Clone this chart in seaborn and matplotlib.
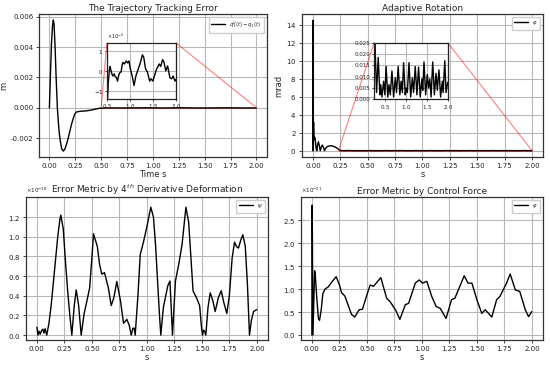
import numpy as np
import pandas as pd
import matplotlib
matplotlib.use("Agg")
import matplotlib.pyplot as plt
import seaborn as sns
from mpl_toolkits.axes_grid1.inset_locator import mark_inset

sns.set_theme(style="whitegrid", rc={
    "axes.edgecolor": "#333333",
    "axes.linewidth": 0.9,
    "grid.color": "#b8b8b8",
    "grid.linewidth": 0.8,
    "xtick.bottom": True,
    "ytick.left": True,
    "xtick.major.size": 2.5,
    "ytick.major.size": 2.5,
    "xtick.major.width": 0.6,
    "ytick.major.width": 0.6,
    "xtick.color": "#222222",
    "ytick.color": "#222222",
    "axes.formatter.use_mathtext": True,
})
plt.rcParams["font.family"] = ["DejaVu Sans"]

# --- dados ---
# erro de rastreamento (m)
t_track = [0.00, 0.01, 0.02, 0.03, 0.038, 0.045, 0.055, 0.065, 0.077, 0.087,
           0.096, 0.108, 0.119, 0.135, 0.15, 0.167, 0.185, 0.20, 0.215, 0.23,
           0.245, 0.26, 0.30, 0.35, 0.40, 0.45, 0.49,
           0.51, 0.53, 0.555, 0.57, 0.59, 0.61, 0.63, 0.66, 0.68, 0.71,
           0.73, 0.76, 0.78, 0.81, 0.83, 0.85, 0.88, 0.92, 0.95, 0.98,
           1.01, 1.05, 1.09, 1.13, 1.18, 1.23, 1.27, 1.30, 1.34, 1.38,
           1.43, 1.46, 1.50, 1.54, 1.58, 1.64, 1.67, 1.71, 1.74, 1.78,
           1.82, 1.87, 1.91, 1.94, 1.98, 2.00]
err_track = [0.0, 2.2e-3, 4.2e-3, 5.4e-3, 5.78e-3, 5.5e-3, 4.0e-3, 2.0e-3, 0.0, -1.0e-3,
             -1.7e-3, -2.3e-3, -2.7e-3, -2.84e-3, -2.7e-3, -2.35e-3, -1.9e-3, -1.47e-3, -1.05e-3, -0.7e-3,
             -0.4e-3, -0.27e-3, -0.22e-3, -0.2e-3, -0.15e-3, -0.07e-3, -0.02e-3,
             -1.6e-5, -0.6e-5, 0.1e-5, 0.22e-5, 0.0, -0.17e-5, -0.26e-5, -0.15e-5, -0.3e-5, -0.34e-5,
             -0.52e-5, -0.2e-5, -0.09e-5, -0.05e-5, 0.3e-5, 0.43e-5, 0.35e-5, 0.5e-5, 0.4e-5, 0.5e-5,
             0.09e-5, -0.26e-5, -0.74e-5, -0.26e-5, 0.09e-5, 0.43e-5, 0.81e-5, 0.7e-5, 0.1e-5, -0.05e-5,
             -0.52e-5, -0.4e-5, -0.52e-5, -0.2e-5, 0.09e-5, 0.35e-5, 0.22e-5, 0.57e-5, 0.45e-5, 0.0,
             0.25e-5, -0.35e-5, -0.4e-5, -0.26e-5, -0.52e-5, -0.43e-5]

# rotação adaptativa (mrad)
t_rot = [0.000, 0.002, 0.004, 0.006, 0.010, 0.015, 0.020, 0.025, 0.030, 0.036,
         0.042, 0.050, 0.058, 0.067, 0.075, 0.085, 0.095, 0.106, 0.115, 0.130,
         0.150, 0.167, 0.185, 0.200, 0.215, 0.230, 0.240, 0.250,
         0.26, 0.29, 0.33, 0.37, 0.39, 0.42, 0.46, 0.49, 0.52, 0.56,
         0.59, 0.62, 0.66, 0.70, 0.74, 0.77, 0.81, 0.85, 0.88, 0.91,
         0.94, 0.98, 1.00, 1.03, 1.07, 1.11, 1.15, 1.18, 1.22, 1.26,
         1.30, 1.34, 1.38, 1.40, 1.43, 1.47, 1.51, 1.54, 1.57, 1.60,
         1.64, 1.68, 1.72, 1.75, 1.79, 1.83, 1.87, 1.89, 1.93, 1.96, 2.00]
phi_rot = [0.0, 14.5, 0.0, 3.2, 1.2, 1.5, 1.4, 0.8, 0.2, 0.0,
           0.6, 1.0, 0.6, 0.0, 0.35, 0.63, 0.4, 0.0, 0.25, 0.45,
           0.53, 0.55, 0.5, 0.42, 0.33, 0.2, 0.09, 0.03,
           0.02, 0.003, 0.0185, 0.002, 0.0065, 0.001, 0.008, 0.002, 0.0145, 0.001,
           0.0065, 0.002, 0.0125, 0.001, 0.0095, 0.003, 0.0145, 0.002, 0.008, 0.003,
           0.0162, 0.002, 0.005, 0.003, 0.0162, 0.001, 0.0095, 0.003, 0.0145, 0.002,
           0.0142, 0.001, 0.009, 0.004, 0.0165, 0.002, 0.011, 0.005, 0.009, 0.001,
           0.0165, 0.002, 0.0115, 0.004, 0.013, 0.001, 0.008, 0.003, 0.017, 0.003, 0.0075]

# métrica de erro pela deformação (derivada de 4a ordem)
t_def = [0.00, 0.01, 0.02, 0.03, 0.045, 0.055, 0.065, 0.075, 0.09, 0.11,
         0.13, 0.16, 0.19, 0.21, 0.218, 0.24, 0.26, 0.28, 0.30, 0.318,
         0.34, 0.358, 0.38, 0.403, 0.43, 0.45, 0.48, 0.50, 0.515, 0.55,
         0.57, 0.59, 0.615, 0.65, 0.676, 0.70, 0.727, 0.76, 0.788, 0.818,
         0.84, 0.858, 0.873, 0.885, 0.894, 0.92, 0.94, 0.97, 1.00, 1.036,
         1.06, 1.08, 1.10, 1.115, 1.127, 1.15, 1.19, 1.21, 1.233, 1.26,
         1.29, 1.32, 1.355, 1.38, 1.40, 1.42, 1.455, 1.48, 1.495, 1.506,
         1.515, 1.525, 1.536, 1.556, 1.576, 1.60, 1.621, 1.65, 1.676, 1.70,
         1.727, 1.75, 1.775, 1.797, 1.815, 1.833, 1.855, 1.873, 1.895, 1.915,
         1.933, 1.95, 1.97, 2.00]
psi_def = [0.08, 0.0, 0.04, 0.01, 0.05, 0.06, 0.02, 0.065, 0.0, 0.12,
           0.3, 0.65, 1.0, 1.18, 1.22, 1.08, 0.75, 0.45, 0.2, 0.0,
           0.3, 0.46, 0.3, 0.0, 0.22, 0.32, 0.48, 0.78, 1.03, 0.9,
           0.72, 0.62, 0.635, 0.48, 0.3, 0.38, 0.545, 0.35, 0.12, 0.16,
           0.1, 0.0, 0.07, 0.07, 0.0, 0.42, 0.82, 0.95, 1.1, 1.3,
           1.2, 0.9, 0.5, 0.2, 0.0, 0.28, 0.5, 0.55, 0.0, 0.55,
           0.72, 0.92, 1.3, 1.15, 0.8, 0.45, 0.37, 0.3, 0.1, 0.0,
           0.05, 0.04, 0.0, 0.28, 0.43, 0.35, 0.24, 0.38, 0.45, 0.33,
           0.22, 0.4, 0.78, 0.945, 0.9, 0.885, 0.97, 1.02, 0.9, 0.5,
           0.0, 0.15, 0.24, 0.26]

# métrica de erro pela força de controle
t_force = [0.000, 0.003, 0.010, 0.025, 0.030, 0.045, 0.060, 0.070, 0.085, 0.100,
           0.120, 0.150, 0.180, 0.221, 0.250, 0.270, 0.300, 0.330, 0.360, 0.390,
           0.430, 0.460, 0.500, 0.530, 0.560, 0.627, 0.680, 0.710, 0.760, 0.800,
           0.850, 0.880, 0.940, 0.976, 1.006, 1.045, 1.090, 1.130, 1.167, 1.220,
           1.270, 1.300, 1.385, 1.420, 1.455, 1.500, 1.545, 1.576, 1.636, 1.680,
           1.710, 1.770, 1.803, 1.850, 1.890, 1.940, 1.970, 2.000]
phi_force = [0.0, 2.83, 0.0, 1.4, 1.35, 0.8, 0.35, 0.32, 0.55, 0.9,
             1.0, 1.05, 1.15, 1.27, 1.1, 0.92, 0.85, 0.65, 0.45, 0.39,
             0.55, 0.56, 0.87, 1.09, 1.06, 1.25, 0.8, 0.73, 0.55, 0.34,
             0.66, 0.69, 1.13, 1.2, 1.13, 1.17, 0.84, 0.62, 0.58, 0.36,
             0.77, 0.8, 1.29, 1.13, 1.13, 0.77, 0.47, 0.55, 0.39, 0.77,
             0.84, 1.13, 1.33, 0.98, 0.95, 0.55, 0.4, 0.51]

track = pd.DataFrame({"t": t_track, "e": err_track})
rot = pd.DataFrame({"t": t_rot, "phi": phi_rot})
defo = pd.DataFrame({"t": t_def, "psi": np.array(psi_def) * 1e-18})
force = pd.DataFrame({"t": t_force, "phi": np.array(phi_force) * 1e-21})

TICK_FS = 5
LAB_FS = 6
TITLE_FS = 6.5
LEG_FS = 3.8
LW = 1.0
xticks = np.arange(0, 2.01, 0.25)


def estilo(ax, title, xlabel, ylabel=None):
    ax.set_title(title, fontsize=TITLE_FS, pad=2)
    ax.set_xlabel(xlabel, fontsize=LAB_FS, labelpad=1)
    if ylabel:
        ax.set_ylabel(ylabel, fontsize=LAB_FS, labelpad=2)
    ax.set_xlim(-0.1, 2.1)
    ax.set_xticks(xticks)
    ax.xaxis.set_major_formatter(matplotlib.ticker.FormatStrFormatter("%.2f"))
    ax.tick_params(labelsize=TICK_FS, pad=1.5)
    ax.yaxis.get_offset_text().set_fontsize(4)
    ax.legend(loc="upper right", fontsize=LEG_FS, handlelength=2.6,
              frameon=True, framealpha=1, edgecolor="#cccccc", borderpad=0.5)


def estilo_inset(axi):
    axi.tick_params(labelsize=4, pad=1, length=1.5)
    axi.yaxis.get_offset_text().set_fontsize(3.5)
    for s in axi.spines.values():
        s.set_color("#222222")
        s.set_linewidth(0.9)


fig = plt.figure(figsize=(5.5, 3.66), dpi=100)
ax1 = fig.add_axes([0.071, 0.571, 0.414, 0.391])
ax2 = fig.add_axes([0.549, 0.571, 0.438, 0.391])
ax3 = fig.add_axes([0.047, 0.071, 0.440, 0.391])
ax4 = fig.add_axes([0.547, 0.071, 0.440, 0.391])

# %% 1. erro de rastreamento
sns.lineplot(data=track, x="t", y="e", ax=ax1, color="black", lw=LW,
             label=r"$q_1^d(t)-q_1(t)$")
ax1.set_ylim(-0.00323, 0.00618)
ax1.set_yticks([-0.002, 0.0, 0.002, 0.004, 0.006])
ax1.yaxis.set_major_formatter(matplotlib.ticker.FormatStrFormatter("%.3f"))
estilo(ax1, "The Trajectory Tracking Error", "Time s", "m")

ins1 = ax1.inset_axes([0.298, 0.406, 0.303, 0.392])
sns.lineplot(data=track, x="t", y="e", ax=ins1, color="black", lw=LW)
ins1.set_xlim(0.5, 2.0)
ins1.set_ylim(-1.42e-5, 1.42e-5)
ins1.set_xticks([0.5, 1.0, 1.5, 2.0])
ins1.set_yticks([-1e-5, 0, 1e-5])
ins1.set_xlabel("")
ins1.set_ylabel("")
estilo_inset(ins1)
mark_inset(ax1, ins1, loc1=2, loc2=1, fc="none", ec="red", alpha=0.5, lw=0.8)

# %% 2. rotação adaptativa
sns.lineplot(data=rot, x="t", y="phi", ax=ax2, color="black", lw=LW,
             label=r"$\varphi$")
ax2.set_ylim(-0.7, 15.2)
ax2.set_yticks(np.arange(0, 15, 2))
estilo(ax2, "Adaptive Rotation", "s", "mrad")

ins2 = ax2.inset_axes([0.300, 0.403, 0.305, 0.396])
sns.lineplot(data=rot, x="t", y="phi", ax=ins2, color="black", lw=LW)
ins2.set_xlim(0.234, 2.0)
ins2.set_ylim(0, 0.025)
ins2.set_xticks([0.5, 1.0, 1.5, 2.0])
ins2.set_yticks([0, 0.005, 0.010, 0.015, 0.020, 0.025])
ins2.yaxis.set_major_formatter(matplotlib.ticker.FormatStrFormatter("%.3f"))
ins2.set_xlabel("")
ins2.set_ylabel("")
estilo_inset(ins2)
mark_inset(ax2, ins2, loc1=2, loc2=1, fc="none", ec="red", alpha=0.5, lw=0.8)

# %% 3. deformação
sns.lineplot(data=defo, x="t", y="psi", ax=ax3, color="black", lw=LW,
             label=r"$\psi$")
ax3.set_ylim(-0.05e-18, 1.405e-18)
ax3.set_yticks(np.arange(0, 1.3e-18, 0.2e-18))
estilo(ax3, r"Error Metric by $4^{th}$ Derivative Deformation", "s")
ax3.set_ylabel("")

# %% 4. força de controle
sns.lineplot(data=force, x="t", y="phi", ax=ax4, color="black", lw=LW,
             label=r"$\varphi$")
ax4.set_ylim(-0.11e-21, 3.01e-21)
ax4.set_yticks(np.arange(0, 2.6e-21, 0.5e-21))
estilo(ax4, "Error Metric by Control Force", "s")
ax4.set_ylabel("")

fig.savefig("out.png", dpi=100)
